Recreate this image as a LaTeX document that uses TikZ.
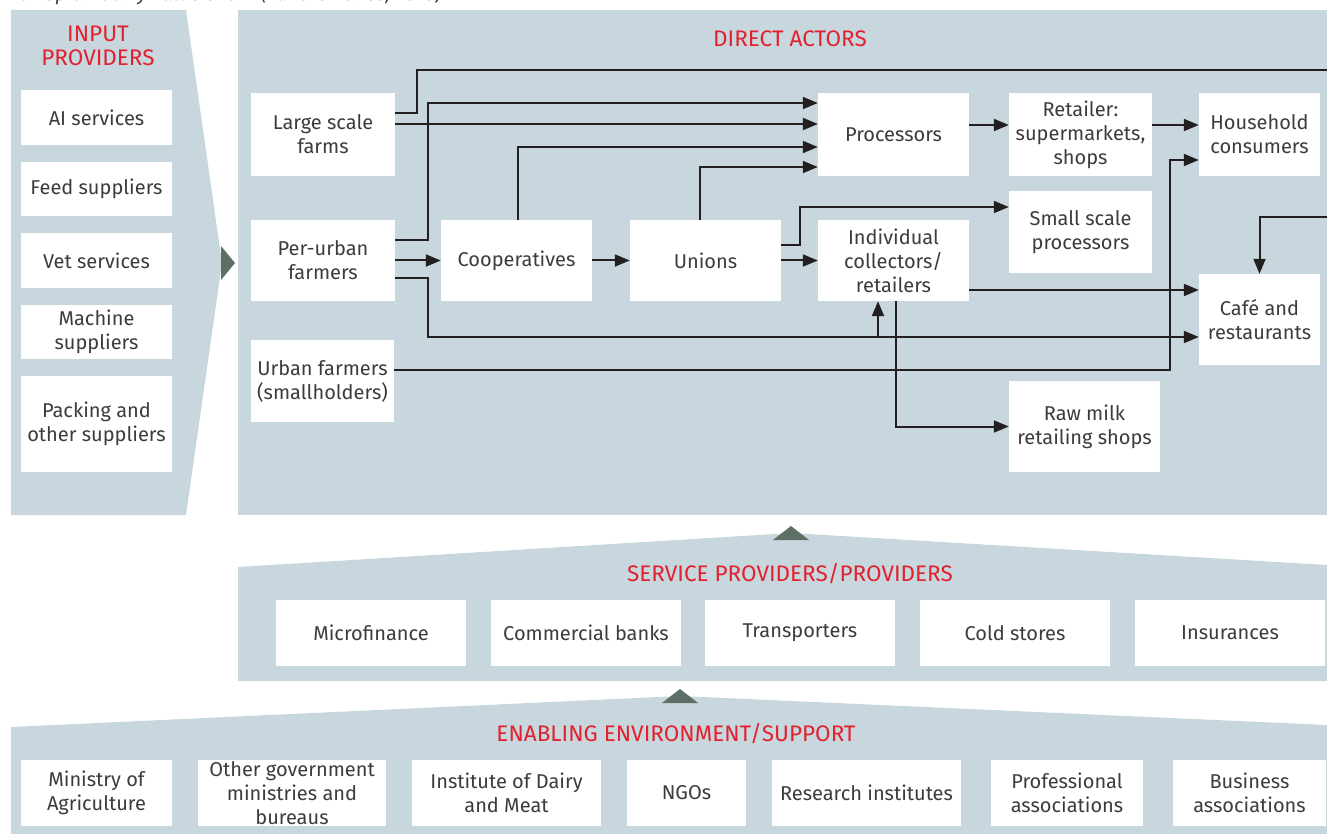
\documentclass[tikz,border=0pt]{standalone}
\usepackage{fontspec}
\setmainfont{Fira Sans}
\usetikzlibrary{arrows.meta}
\definecolor{panel}{HTML}{C8D6DD}
\definecolor{tri}{HTML}{5E6F66}
\definecolor{hred}{HTML}{E2202E}
\definecolor{txt}{HTML}{3C3C3C}
\definecolor{arrc}{HTML}{231F20}
\begin{document}
\begin{tikzpicture}[x=1pt,y=-1pt,
  font=\fontsize{20}{24}\selectfont,
  bx/.style 2 args={fill=white, text=txt, align=center, inner sep=0pt, minimum width=#1, minimum height=#2},
  head/.style={text=hred, align=center, inner sep=0pt, font=\fontsize{22.5}{24}\selectfont},
  conn/.style={draw=arrc, line width=2pt, -{Triangle[length=15pt,width=12pt]}},
  plainln/.style={draw=arrc, line width=2pt}]
\useasboundingbox (0,0) rectangle (1327,834);
\clip (0,0) rectangle (1327,834);

% caption (cut off at top)
\node[anchor=base west, text=txt, font=\fontsize{20}{22}\selectfont\itshape, inner sep=0pt] (cap) at (9,1) {Ethiopian dairy value chain (Land O'Lakes, 2010)};

% panels
\fill[panel] (11,10) -- (186,10) -- (222,263) -- (186,515) -- (11,515) -- cycle;
\fill[tri] (221,246) -- (235,263) -- (221,280) -- cycle;
\fill[panel] (238,10) rectangle (1327,515);
\fill[panel] (238,567) -- (791,533) -- (1327,565) -- (1327,681) -- (238,681) -- cycle;
\fill[tri] (773,540) -- (791,526) -- (809,540) -- cycle;
\fill[panel] (11,727) -- (680,696) -- (1327,725) -- (1327,834) -- (11,834) -- cycle;
\fill[tri] (662,703) -- (680,689) -- (698,703) -- cycle;

% headings
\node[head] (ip) at (98,46) {INPUT\\PROVIDERS};
\node[head] (da) at (790,39) {DIRECT ACTORS};
\node[head] (sp) at (790,574) {SERVICE PROVIDERS/PROVIDERS};
\node[head] (ee) at (676,734) {ENABLING ENVIRONMENT/SUPPORT};

% input providers
\node[bx={151pt}{55pt}] (ai) at (96.5,117.5) {AI services};
\node[bx={151pt}{54pt}] (feed) at (96.5,189) {Feed suppliers};
\node[bx={151pt}{55pt}] (vet) at (96.5,260.5) {Vet services};
\node[bx={151pt}{54pt}] (mach) at (96.5,332) {Machine\\suppliers};
\node[bx={151pt}{96pt}] (pack) at (96.5,424) {Packing and\\other suppliers};

% direct actors
\node[bx={144pt}{83pt}] (lsf) at (323,134.5) {Large scale\\farms};
\node[bx={144pt}{81pt}] (puf) at (323,260.5) {Per-urban\\farmers};
\node[bx={143pt}{82pt}] (uf) at (322.5,381) {Urban farmers\\(smallholders)};
\node[bx={151pt}{81pt}] (coop) at (516.5,260.5) {Cooperatives};
\node[bx={151pt}{81pt}] (uni) at (705.5,260.5) {Unions};
\node[bx={151pt}{83pt}] (proc) at (893.5,134.5) {Processors};
\node[bx={143pt}{83pt}] (ret) at (1080.5,134.5) {Retailer:\\supermarkets,\\shops};
\node[bx={121pt}{83pt}] (hh) at (1259.5,134.5) {Household\\consumers};
\node[bx={143pt}{82pt}] (ssp) at (1080.5,232) {Small scale\\processors};
\node[bx={151pt}{81pt}] (ind) at (893.5,260.5) {Individual\\collectors/\\retailers};
\node[bx={121pt}{91pt}] (cafe) at (1259.5,319.5) {Café and\\restaurants};
\node[bx={151pt}{91pt}] (raw) at (1084.5,426.5) {Raw milk\\retailing shops};

% service providers
\node[bx={190pt}{66pt}] (mf) at (371,633) {Microfinance};
\node[bx={190pt}{66pt}] (cb) at (586,633) {Commercial banks};
\node[bx={190pt}{66pt}] (tr) at (800,633) {Transporters};
\node[bx={190pt}{66pt}] (cs) at (1015,633) {Cold stores};
\node[bx={190pt}{66pt}] (ins) at (1230,633) {Insurances};

% enabling environment
\node[bx={151pt}{66pt}] (moa) at (96.5,793) {Ministry of\\Agriculture};
\node[bx={188pt}{66pt}] (ogm) at (292,793) {Other government\\ministries and\\bureaus};
\node[bx={189pt}{66pt}] (idm) at (506.5,793) {Institute of Dairy\\and Meat};
\node[bx={119pt}{66pt}] (ngo) at (686.5,793) {NGOs};
\node[bx={189pt}{66pt}] (ri) at (866.5,793) {Research institutes};
\node[bx={152pt}{66pt}] (pa) at (1067,793) {Professional\\associations};
\node[bx={153pt}{66pt}] (ba) at (1249.5,793) {Business\\associations};

% connectors
\draw[conn] ([yshift=21.5pt]lsf.east) -| (417,70) -- (1345,70) -- (1345,217) -| (cafe.north);
\draw[conn] ([yshift=20.5pt]puf.east) -| (428,103) -- ([yshift=31.5pt]proc.west);
\draw[conn] ([yshift=10.5pt]lsf.east) -- ([yshift=10.5pt]proc.west);
\draw[conn] ([xshift=1.5pt]coop.north) |- ([yshift=-12.5pt]proc.west);
\draw[conn] ([xshift=-5.5pt]uni.north) |- ([yshift=-32.5pt]proc.west);
\draw[conn] (puf.east) -- (coop.west);
\draw[conn] (coop.east) -- (uni.west);
\draw[conn] (uni.east) -- (ind.west);
\draw[conn] ([yshift=15pt]uni.east) -| (800,207) -- ([yshift=25pt]ssp.west);
\draw[conn] ([yshift=9.5pt]proc.east) -- ([yshift=9.5pt]ret.west);
\draw[conn] ([yshift=9.5pt]ret.east) -- ([yshift=9.5pt]hh.west);
\draw[conn] ([yshift=11pt]uf.east) -| (1170,160) -- ([yshift=-25.5pt]hh.west);
\draw[conn] ([yshift=-29.5pt]ind.east) -- ([yshift=29.5pt]cafe.west);
\draw[conn] ([yshift=-17.5pt]puf.east) -| (428,337) -- ([yshift=-17.5pt]cafe.west);
\coordinate (br) at (878,337);
\draw[conn] (br) -- (br |- ind.south);
\draw[conn] ([xshift=2.5pt]ind.south) |- (raw.west);
\end{tikzpicture}
\end{document}
